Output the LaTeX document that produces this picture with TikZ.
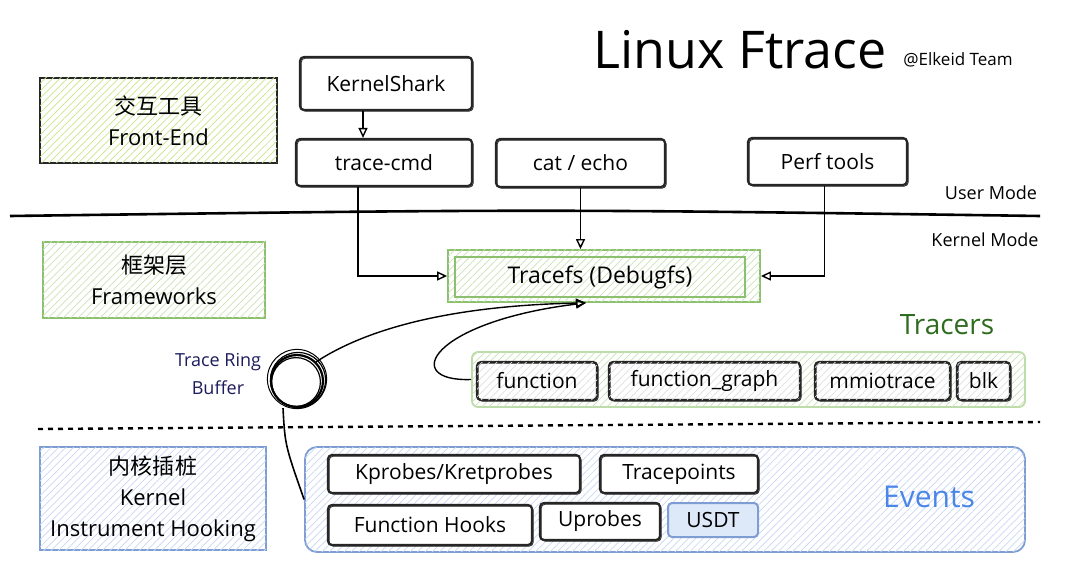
\documentclass[tikz,border=0pt]{standalone}
\usepackage{fontspec}
\setmainfont{Open Sans}
\newfontfamily\cjk{Noto Sans CJK SC}
\usetikzlibrary{arrows.meta,patterns.meta}

\definecolor{vertjaune}{HTML}{C8E68A}
\definecolor{vertbord}{HTML}{8CBF6E}
\definecolor{vertclair}{HTML}{C9E3B8}
\definecolor{vertfonce}{HTML}{2E6B1F}
\definecolor{bleubord}{HTML}{7E9DD2}
\definecolor{bleuclair}{HTML}{C7D8F5}
\definecolor{bleutexte}{HTML}{4A86E8}
\definecolor{marine}{HTML}{1B1B5E}

\begin{document}
\begin{tikzpicture}[x=0.5pt, y=-0.5pt,
    hachure/.style={pattern={Lines[angle=45,distance=2.6pt,line width=0.35pt]}, pattern color=#1},
    boite/.style={draw=black!85, line width=1.1pt, rounded corners=2pt, fill=white, font=\fontsize{10.5}{12}\selectfont,
      inner sep=0pt, postaction={draw, line width=0.4pt, transform canvas={shift={(0.6pt,-0.6pt)}}}},
    petite/.style={boite, postaction={hachure=black!12}},
    zone/.style={draw=#1, line width=0.9pt, align=center, inner sep=0pt, font=\fontsize{11}{15.5}\selectfont},
    fleche/.style={-{Triangle[open,length=5pt,width=4.5pt]}, line width=0.7pt}]

      \useasboundingbox (0,0) rectangle (1080,587);

      % titre
      \node (titre) at (740,50) {\fontsize{26}{28}\selectfont Linux Ftrace};
      \node (equipe) at (958,60) {\fontsize{8.5}{10}\selectfont @Elkeid Team};

      % couches a gauche
      \node[zone=black!85, fill=white, postaction={hachure=vertjaune}, minimum width=118.5pt, minimum height=42.5pt]
        (fe) at (158.5,120.5) {{\cjk 交互工具}\\Front-End};
      \node[zone=vertbord, fill=white, postaction={hachure=vertclair}, minimum width=111pt, minimum height=38pt]
        (fw) at (154,280) {{\cjk 框架层}\\Frameworks};
      \node[zone=bleubord, fill=white, postaction={hachure=bleuclair}, minimum width=113pt, minimum height=51.5pt]
        (kn) at (153,498.5) {{\cjk 内核插桩}\\Kernel\\Instrument Hooking};

      % outils en mode utilisateur
      \node[boite, minimum width=86pt, minimum height=26.5pt] (ks) at (386,83.5) {KernelShark};
      \node[boite, minimum width=88pt, minimum height=23.5pt] (tcmd) at (384,162.5) {trace-cmd};
      \node[boite, minimum width=84.5pt, minimum height=24pt] (cat) at (580.5,163) {cat / echo};
      \node[boite, minimum width=79.5pt, minimum height=23.5pt] (perf) at (827.5,161.5) {Perf tools};

      % separation user / kernel
      \draw[line width=1.3pt] (10,216) .. controls (540,209) .. (1040,216);
      \node (user) at (991,193) {\fontsize{9}{10}\selectfont User Mode};
      \node (kernel) at (985,240) {\fontsize{9}{10}\selectfont Kernel Mode};

      % tracefs
      \node[draw=vertbord, line width=0.9pt, fill=white, postaction={hachure=vertclair}, minimum width=156pt, minimum height=26pt]
        (tfs) at (604,276) {};
      \node[draw=vertbord, line width=0.9pt, minimum width=145pt, minimum height=20pt, font=\fontsize{11.5}{13}\selectfont]
        (tfsin) at (600,277) {Tracefs (Debugfs)};

      % fleches vers tracefs
      \draw[fleche] ([xshift=-11.5pt]ks.south) -- ([xshift=-11.5pt]ks.south |- tcmd.north);
      \draw[fleche] ([xshift=-13pt]tcmd.south) |- (tfs.west);
      \draw[fleche] (cat.south) -- (cat.south |- tfs.north);
      \draw[fleche] ([xshift=-1.5pt]perf.south) |- (tfs.east);

      % tracers
      \node[text=vertfonce] (tracers) at (947,325) {\fontsize{14}{16}\selectfont Tracers};
      \node[draw=vertclair!80!vertbord, line width=0.9pt, rounded corners=3pt, fill=white, postaction={hachure=vertclair},
        minimum width=276.5pt, minimum height=27.5pt] (trc) at (748.5,379.5) {};
      \node[petite, minimum width=60pt, minimum height=19pt] (fn) at (537,381) {function};
      \node[petite, minimum width=95.5pt, minimum height=19pt] (fg) at (704.5,381) {function\_graph};
      \node[petite, minimum width=67.5pt, minimum height=19pt] (mmio) at (882.5,381) {mmiotrace};
      \node[petite, minimum width=26.5pt, minimum height=19pt] (blk) at (983.5,381) {blk};

      % tampon circulaire
      \node[circle, draw, line width=1.1pt, minimum size=26pt] (ring) at (297,381) {};
      \draw[line width=0.6pt] (298,380) circle (13.8pt);
      \draw[line width=0.6pt] (296,382) circle (12.2pt);
      \draw[line width=0.5pt] (297,379) circle (14.8pt);
      \node[text=marine, align=center, font=\fontsize{9}{14}\selectfont] (ringlbl) at (218,374) {Trace Ring\\Buffer};

      \draw[fleche] (ring.north east) .. controls (380,320) and (480,305) .. ([xshift=-9pt]tfs.south);
      \draw[fleche] (trc.west) .. controls (400,382) and (430,322) .. ([xshift=-9pt]tfs.south);

      % separation pointillee
      \draw[line width=1.2pt, dash pattern=on 2.5pt off 2.5pt] (38,429) -- (1040,422);

      % evenements
      \node[draw=bleubord, line width=0.9pt, rounded corners=6pt, fill=white, postaction={hachure=bleuclair},
        minimum width=360pt, minimum height=52.5pt] (ev) at (665,499.5) {};
      \draw[line width=0.8pt] ([xshift=-7pt]ring.south) .. controls (285,445) .. (ev.west);
      \node[boite, minimum width=126pt, minimum height=19pt] (kp) at (454,474) {Kprobes/Kretprobes};
      \node[boite, minimum width=79pt, minimum height=19pt] (tp) at (679,474) {Tracepoints};
      \node[boite, minimum width=102pt, minimum height=20pt] (fh) at (430,525) {Function Hooks};
      \node[boite, minimum width=60pt, minimum height=18.5pt] (up) at (600,521.5) {Uprobes};
      \node[draw=bleubord, line width=1pt, rounded corners=2pt, fill=bleuclair!60, inner sep=0pt,
        minimum width=45pt, minimum height=17pt, font=\fontsize{10.5}{12}\selectfont] (usdt) at (713,520) {USDT};
      \node[text=bleutexte] (events) at (929,497) {\fontsize{15}{17}\selectfont Events};
    \end{tikzpicture}
\end{document}
